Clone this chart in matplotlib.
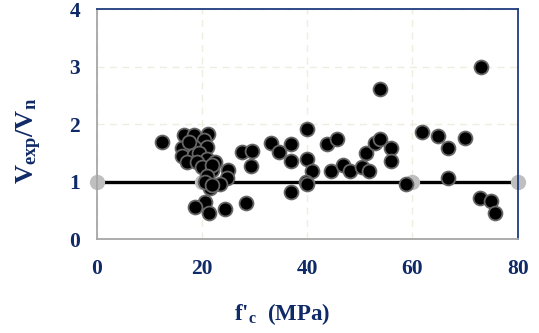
import matplotlib
matplotlib.use("Agg")
import matplotlib.pyplot as plt

plt.rcParams['font.family'] = ['Liberation Serif', 'DejaVu Serif']
plt.rcParams['font.weight'] = 'bold'
plt.rcParams['mathtext.fontset'] = 'custom'
plt.rcParams['mathtext.rm'] = 'Liberation Serif:bold'
plt.rcParams['mathtext.it'] = 'Liberation Serif:bold'
plt.rcParams['mathtext.bf'] = 'Liberation Serif:bold'

# Test data: f'c (MPa) and Vexp/Vn
fc = [12.5, 16.6, 18.4, 21.2, 20.3, 16.2, 18.4, 20.9, 16.2, 18.4, 17.1, 17.5,
      19.5, 21.0, 19.0, 20.0, 21.9, 22.5, 22.0, 25.0, 24.7, 23.4, 21.5, 21.0,
      20.5, 22.0, 20.6, 18.7, 21.4, 24.4, 27.7, 29.6, 29.4, 28.3, 33.1, 34.6,
      36.9, 36.9, 36.9, 39.9, 39.9, 41.0, 39.8, 39.9, 43.7, 45.6, 44.5, 46.9,
      48.1, 50.5, 51.8, 51.2, 52.9, 53.8, 53.8, 55.9, 55.9, 58.8, 61.9, 64.8,
      66.8, 66.8, 70.0, 73.0, 72.8, 75.0, 75.7]
ratio = [1.70, 1.81, 1.81, 1.83, 1.73, 1.58, 1.61, 1.61, 1.44, 1.47, 1.35, 1.70,
         1.50, 1.40, 1.35, 1.26, 1.21, 1.35, 1.30, 1.21, 1.06, 0.97, 0.89, 1.10,
         1.00, 0.95, 0.65, 0.56, 0.45, 0.52, 1.51, 1.54, 1.28, 0.63, 1.68, 1.52,
         1.66, 1.37, 0.83, 1.91, 1.39, 1.18, 1.00, 0.96, 1.66, 1.74, 1.18, 1.30,
         1.18, 1.26, 1.18, 1.50, 1.68, 1.74, 2.61, 1.58, 1.36, 0.97, 1.86, 1.79,
         1.58, 1.06, 1.76, 2.99, 0.71, 0.66, 0.45]

# Reference line Vexp/Vn = 1
ref_x = [0, 20, 40, 60, 80]
ref_y = [1, 1, 1, 1, 1]

x_ticks = [0, 20, 40, 60, 80]
y_ticks = [0, 1, 2, 3, 4]

navy = '#0f2a66'

fig = plt.figure(figsize=(5.39, 3.33), dpi=100)
ax = fig.add_axes([0.1794, 0.2814, 0.781, 0.6907])

ax.plot(ref_x, ref_y, color='black', lw=2.4, marker='o', markersize=10,
        markerfacecolor='#bfbfbf', markeredgecolor='#bfbfbf', clip_on=False, zorder=2)
ax.scatter(fc, ratio, s=100, facecolor='black', edgecolor='#666666', linewidth=1.3,
           zorder=3, clip_on=False)

ax.set_xlim(0, 80)
ax.set_ylim(0, 4)
ax.set_xticks(x_ticks)
ax.set_yticks(y_ticks)
ax.set_xticklabels([str(v) for v in x_ticks], fontweight='bold')
ax.set_yticklabels([str(v) for v in y_ticks], fontweight='bold')
ax.grid(True, linestyle=(0, (5, 4)), color='#efece0', linewidth=1)
ax.set_axisbelow(True)
ax.tick_params(axis='both', length=0, labelsize=15.5, labelcolor=navy)
ax.tick_params(axis='x', pad=14)
ax.tick_params(axis='y', pad=12)

for side in ['left', 'bottom']:
    ax.spines[side].set_color('#a6a6a6')
    ax.spines[side].set_linewidth(1.3)
for side in ['top', 'right']:
    ax.spines[side].set_color('#1f3c80')
    ax.spines[side].set_linewidth(1.3)

ax.set_xlabel("f'$_\\mathbf{c}$  (MPa)", fontsize=16.5, color=navy, fontweight='bold')
ax.xaxis.set_label_coords(0.44, -0.27)
ax.set_ylabel(r"$\mathbf{V_{exp}/V_n}$", fontsize=19, color=navy)
ax.yaxis.set_label_coords(-0.125, 0.43)

fig.savefig('out.png', dpi=100)
